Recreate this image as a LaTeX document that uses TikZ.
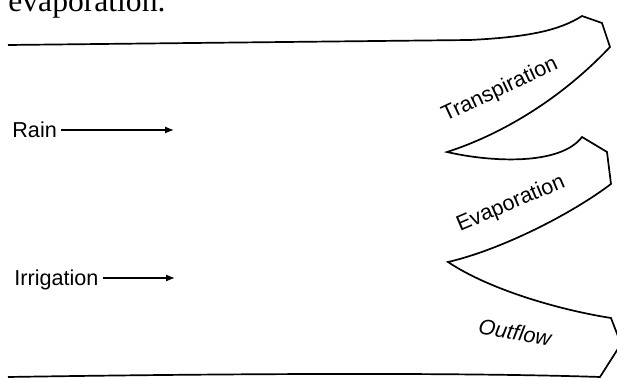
\documentclass[tikz,border=0pt]{standalone}
\usepackage{fontspec}
\setmainfont{Liberation Serif}
\setsansfont{Liberation Sans}
\usetikzlibrary{arrows.meta}
\begin{document}
\begin{tikzpicture}[x=0.5pt, y=-0.5pt]

    % Styles
    \tikzstyle{entree} = [font=\sffamily\fontsize{10.8}{13}\selectfont, inner sep=2pt, text depth=0pt]
    \tikzstyle{flux} = [font=\sffamily\fontsize{10.8}{13}\selectfont, inner sep=0pt]
    \tikzstyle{arrow} = [line width=0.7pt, ->, >={Latex[length=4.5pt, width=3.6pt]}]
    \tikzstyle{bande} = [line width=0.85pt]

    \clip (0,0) rectangle (617,378);

    % Titre
    \node (titre) [anchor=base west, inner sep=0pt, font=\fontsize{15.8}{18}\selectfont] at (8,12) {evaporation.};

    % Noeuds
    \node (rain) [entree, anchor=west] at (8,130) {Rain};
    \node (irrigation) [entree, anchor=west] at (10,278) {Irrigation};
    \coordinate (rainend) at (174,130);
    \coordinate (irrigationend) at (175,278);
    \node (transpiration) [flux, rotate=25] at (500,90) {Transpiration};
    \node (evaporation) [flux, rotate=23] at (511,204) {Evaporation};
    \node (outflow) [flux, rotate=-10, font=\sffamily\itshape\fontsize{10.8}{13}\selectfont] at (515,332) {Outflow};

    % Flèches
    \draw [arrow] (rain) -- (rainend);
    \draw [arrow] (irrigation) -- (irrigationend);

    % Bandes
    \coordinate (pointe1) at (447,152);
    \coordinate (pointe2) at (448,262);
    \draw [bande] (8,45) -- (470,40) .. controls (530,37) and (560,30) .. (582,16)
        -- (602,23) -- (610,47)
        .. controls (560,100) and (500,135) .. (pointe1)
        .. controls (490,162) and (560,166) .. (582,137)
        -- (607,152) -- (611,184)
        .. controls (570,215) and (500,250) .. (pointe2)
        .. controls (490,290) and (560,310) .. (611,318)
        -- (621,344) -- (600,377)
        .. controls (450,372) and (200,374) .. (8,377);
\end{tikzpicture}
\end{document}
